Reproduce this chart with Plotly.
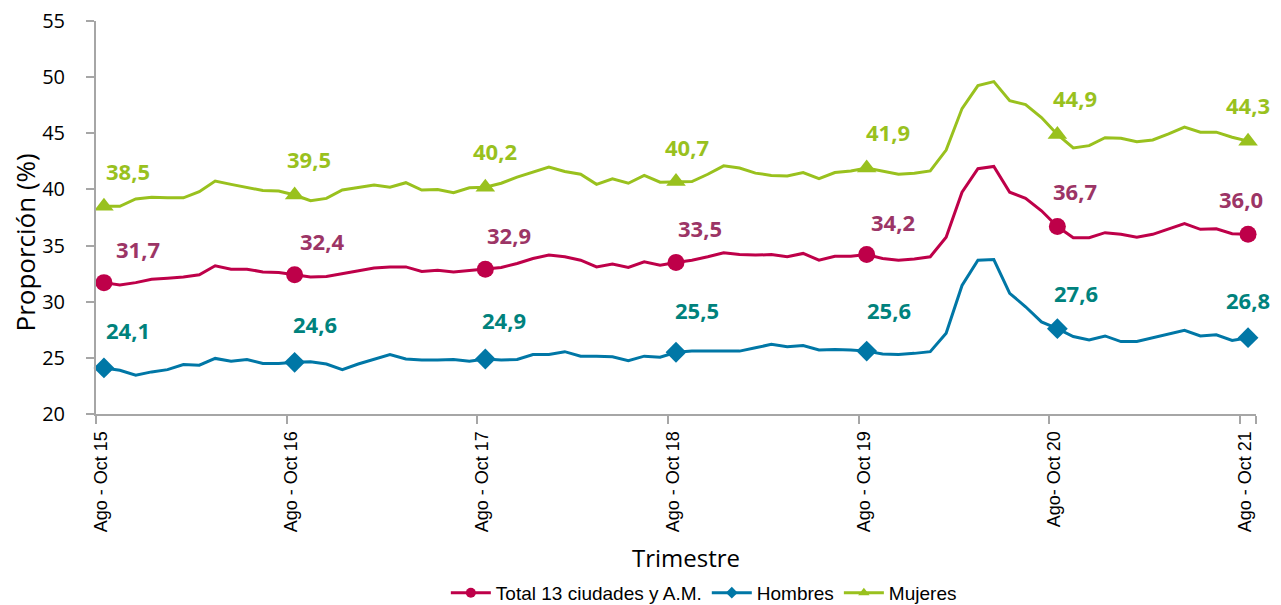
import plotly.graph_objects as go

# ---------------- data ----------------
total = [31.7, 31.5, 31.7, 32.0, 32.1, 32.2, 32.4, 33.2, 32.9, 32.9, 32.65, 32.6,
         32.4, 32.2, 32.25, 32.5, 32.8, 33.0, 33.1, 33.1, 32.7, 32.8, 32.65, 32.8,
         32.9, 33.05, 33.4, 33.85, 34.15, 34.0, 33.7, 33.1, 33.35, 33.05, 33.55, 33.25,
         33.5, 33.7, 34.0, 34.35, 34.2, 34.15, 34.2, 34.0, 34.3, 33.7, 34.05, 34.05,
         34.2, 33.85, 33.7, 33.8, 34.0, 35.75, 39.75, 41.85, 42.05, 39.75, 39.2, 38.1,
         36.7, 35.7, 35.7, 36.15, 36.0, 35.75, 36.0, 36.45, 36.95, 36.45, 36.5, 36.05,
         36.0]
hombres = [24.1, 23.9, 23.45, 23.75, 23.95, 24.4, 24.35, 24.95, 24.7, 24.85, 24.5, 24.5,
           24.6, 24.65, 24.45, 23.95, 24.45, 24.85, 25.3, 24.9, 24.8, 24.8, 24.85, 24.7,
           24.9, 24.8, 24.85, 25.3, 25.3, 25.55, 25.15, 25.15, 25.1, 24.75, 25.15, 25.05,
           25.5, 25.6, 25.6, 25.55, 25.6, 25.9, 26.2, 26.0, 26.1, 25.7, 25.75, 25.7,
           25.6, 25.35, 25.3, 25.4, 25.55, 27.2, 31.45, 33.7, 33.75, 30.75, 29.55, 28.2,
           27.6, 26.9, 26.6, 26.95, 26.45, 26.45, 26.8, 27.15, 27.45, 26.95, 27.05, 26.55,
           26.8]
mujeres = [38.5, 38.5, 39.15, 39.3, 39.25, 39.25, 39.8, 40.75, 40.45, 40.2, 39.9, 39.85,
           39.5, 39.0, 39.2, 39.95, 40.2, 40.4, 40.2, 40.6, 39.95, 40.0, 39.7, 40.15,
           40.2, 40.55, 41.1, 41.55, 42.0, 41.6, 41.35, 40.45, 40.95, 40.55, 41.25, 40.65,
           40.7, 40.7, 41.35, 42.1, 41.9, 41.45, 41.25, 41.2, 41.5, 40.95, 41.5, 41.65,
           41.9, 41.6, 41.35, 41.45, 41.65, 43.5, 47.2, 49.25, 49.6, 47.9, 47.55, 46.4,
           44.9, 43.7, 43.9, 44.6, 44.55, 44.25, 44.4, 44.95, 45.55, 45.1, 45.1, 44.65,
           44.3]

tick_labels = ["Ago - Oct 15", "Ago - Oct 16", "Ago - Oct 17", "Ago - Oct 18",
               "Ago - Oct 19", "Ago- Oct 20", "Ago - Oct 21"]
month_abbr = ["Ene", "Feb", "Mar", "Abr", "May", "Jun", "Jul", "Ago", "Sep", "Oct", "Nov", "Dic"]

# categories: rolling quarters from Ago-Oct 2015 to Ago-Oct 2021
categories = []
for i in range(len(total)):
    s = (7 + i) % 12
    e = (9 + i) % 12
    yy = 15 + (9 + i) // 12
    categories.append(f"{month_abbr[s]} - {month_abbr[e]} {yy:02d}")
key_idx = list(range(0, len(total), 12))
for k, lab in zip(key_idx, tick_labels):
    categories[k] = lab

series_names = ["Total 13 ciudades y A.M.", "Hombres", "Mujeres"]

# ---------------- styles ----------------
line_colors = ["#BE0049", "#0077A6", "#99C11E"]
label_colors = ["#9C3566", "#00827D", "#99C11E"]
symbols = ["circle", "diamond", "triangle-up"]
msizes = [17, 16, 17]
legend_msizes = [10, 9, 10]
# label offsets (px) relative to point: (xshift, yshift)
label_shift = {
    0: [(34, 34), (27, 34), (24, 34), (24, 34), (26, 33), (18, 35), (-7, 35)],
    1: [(24, 38), (20, 38), (19, 39), (21, 42), (22, 41), (19, 36), (0, 38)],
    2: [(24, 35), (14, 36), (10, 36), (11, 35), (21, 36), (18, 36), (0, 36)],
}

fig = go.Figure()
all_series = [total, hombres, mujeres]
for si, (name, vals) in enumerate(zip(series_names, all_series)):
    sizes = [msizes[si] if i in key_idx else 0 for i in range(len(vals))]
    fig.add_trace(go.Scatter(
        x=categories, y=vals, name=name, mode="lines+markers", showlegend=False,
        line=dict(color=line_colors[si], width=3),
        marker=dict(symbol=symbols[si], size=sizes, color=line_colors[si],
                    opacity=1, line=dict(width=0)),
        cliponaxis=False, hoverinfo="skip",
    ))
    # legend entry
    fig.add_trace(go.Scatter(
        x=[None], y=[None], name=name, mode="lines+markers",
        line=dict(color=line_colors[si], width=3),
        marker=dict(symbol=symbols[si], size=legend_msizes[si], color=line_colors[si]),
    ))
    for j, k in enumerate(key_idx):
        xs, ys = label_shift[si][j]
        fig.add_annotation(
            x=categories[k], y=vals[k], xref="x", yref="y",
            text=f"{vals[k]:.1f}".replace(".", ","), showarrow=False,
            xshift=xs, yshift=ys,
            font=dict(family="Open Sans", size=22, color=label_colors[si], weight="bold"),
        )

# axis titles
fig.add_annotation(text="Proporción (%)", xref="paper", yref="paper",
                   x=-0.061, y=0.437, textangle=-90, showarrow=False,
                   xanchor="center", yanchor="middle",
                   font=dict(family="Open Sans", size=26, color="#000000"))
fig.add_annotation(text="Trimestre", xref="paper", yref="paper",
                   x=0.509, y=-0.366, showarrow=False,
                   xanchor="center", yanchor="middle",
                   font=dict(family="Open Sans", size=24, color="#000000"))

axis_gray = "#A6A6A6"
fig.update_layout(
    width=1281, height=605,
    margin=dict(l=96, r=25, t=21, b=191, autoexpand=False),
    paper_bgcolor="white", plot_bgcolor="white",
    showlegend=True,
    legend=dict(orientation="h", x=0.524, xanchor="center", y=-0.455, yanchor="middle",
                font=dict(family="Liberation Sans", size=19, color="#000000"),
                tracegroupgap=0, itemwidth=40, bgcolor="rgba(0,0,0,0)"),
    xaxis=dict(
        type="category", range=[-0.5, len(total) - 0.5], automargin=False,
        tickmode="array", tickvals=[categories[k] for k in key_idx], ticktext=tick_labels,
        tickson="boundaries", ticks="outside", ticklen=8, tickwidth=2, tickcolor=axis_gray,
        tickangle=-90, ticklabelshift=-3, ticklabelstandoff=8,
        tickfont=dict(family="Liberation Sans", size=18, color="#000000"),
        showline=True, linecolor=axis_gray, linewidth=2, showgrid=False, zeroline=False,
    ),
    yaxis=dict(
        range=[20, 55], dtick=5, tick0=20, ticks="outside", ticklen=8, tickwidth=2,
        automargin=False,
        tickcolor=axis_gray, showline=True, linecolor=axis_gray, linewidth=2,
        showgrid=False, zeroline=False, ticklabelstandoff=17,
        tickfont=dict(family="Open Sans", size=20, color="#000000"),
    ),
)

fig.write_html("out.html", config={"displayModeBar": False},
               post_script="document.body.style.margin='0';document.body.style.overflow='hidden';")
